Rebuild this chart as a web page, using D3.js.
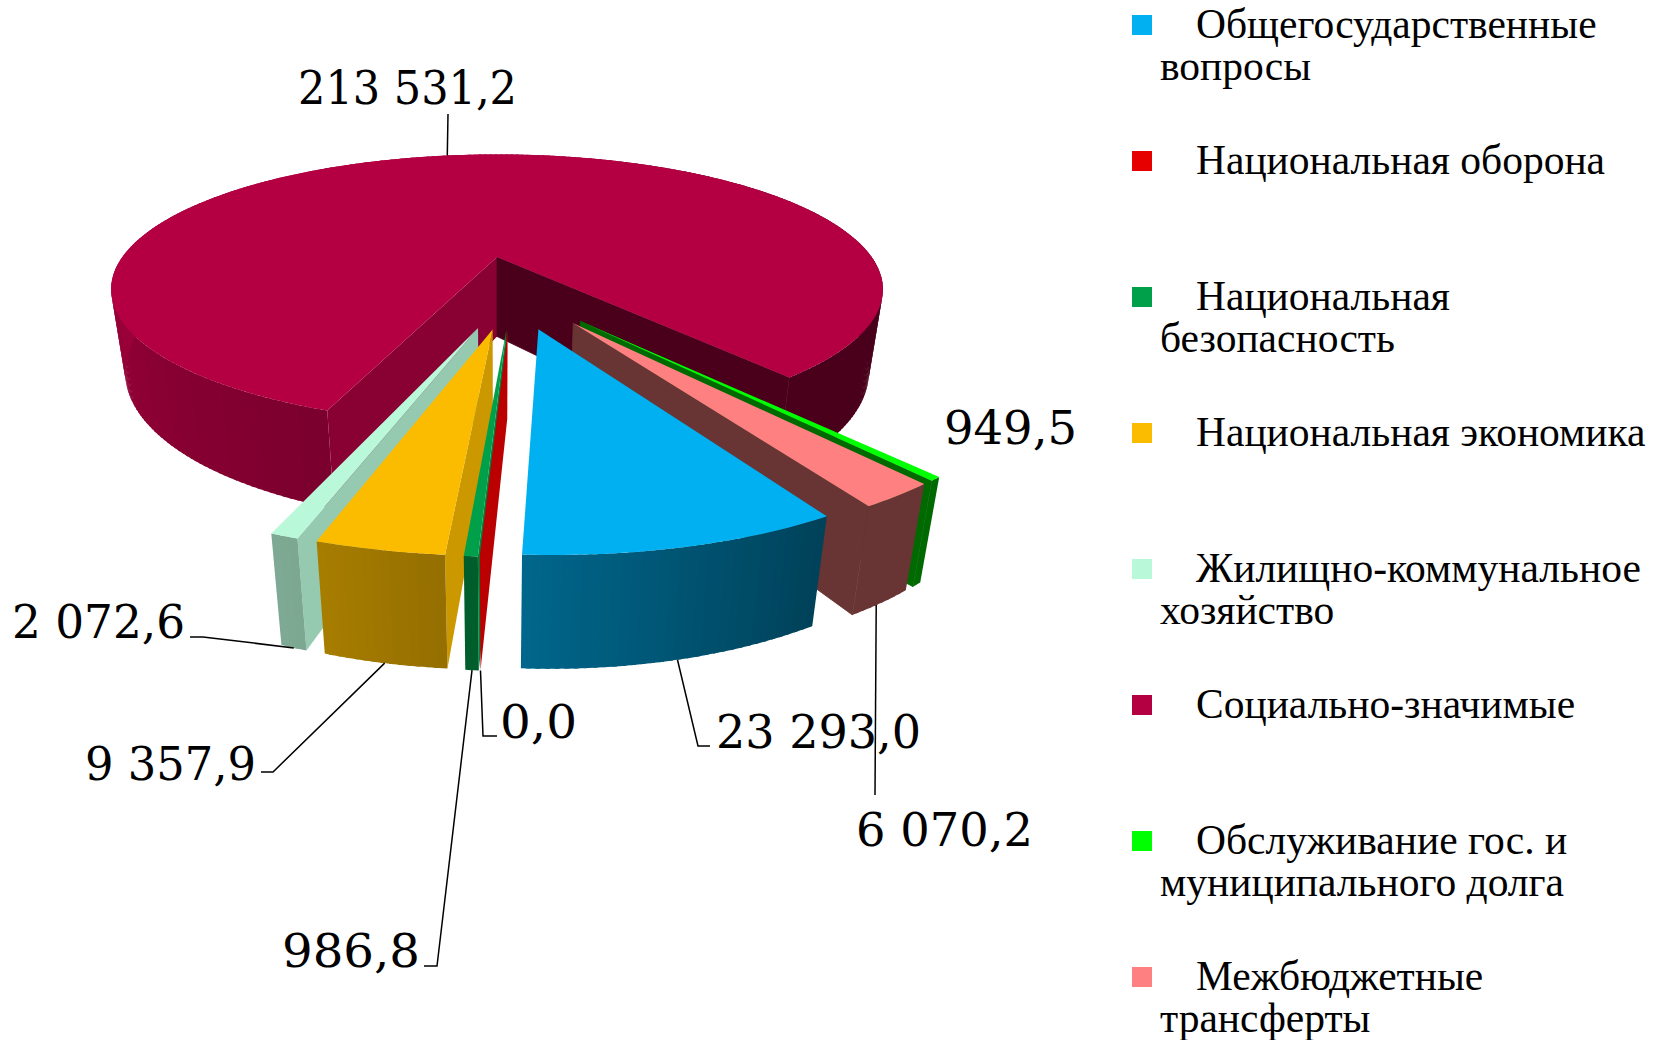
<!DOCTYPE html>
<html>
<head>
<meta charset="utf-8">
<script src="https://cdn.jsdelivr.net/npm/d3@7"></script>
<style>
  html, body { margin: 0; padding: 0; background: #fff; }
  svg { display: block; }
  .legend text { font-family: "Liberation Serif", serif; font-size: 41.5px; fill: #000; }
  .value { font-family: "DejaVu Serif", serif; font-size: 46px; fill: #000; }
</style>
</head>
<body>
<div id="chart"></div>
<script>
// data
var categories = ["Общегосударственные вопросы", "Национальная оборона", "Национальная безопасность",
  "Национальная экономика", "Жилищно-коммунальное хозяйство", "Социально-значимые",
  "Обслуживание гос. и муниципального долга", "Межбюджетные трансферты"];
var values = [23293.0, 0.0, 986.8, 9357.9, 2072.6, 213531.2, 949.5, 6070.2];
var colors = ["#00B0F0", "#E60000", "#00A04B", "#FBBC00", "#B9F9D9", "#B40043", "#00FF00", "#FF8080"];
var legendLines = [["Общегосударственные", "вопросы"], ["Национальная оборона"], ["Национальная", "безопасность"],
  ["Национальная экономика"], ["Жилищно-коммунальное", "хозяйство"], ["Социально-значимые"],
  ["Обслуживание гос. и", "муниципального долга"], ["Межбюджетные", "трансферты"]];

var width = 1658, height = 1040;
var svg = d3.select("#chart").append("svg").attr("width", width).attr("height", height);
var deg = Math.PI / 180;

// camera for the tilted pie
var screenX = 497, screenY = 257, scaleXY = 374.6, sinTilt = 0.3395, k = 0.24;
var cosTilt = Math.sqrt(1 - sinTilt * sinTilt), camDist = cosTilt / k, focal = scaleXY * camDist;
var thickness = 0.23, explode = 0.255, squeeze = 0.016;

function project(x, y, z) {
  var dist = camDist - (y * cosTilt + z * sinTilt);
  var px = focal * x / dist * (1 + z * squeeze / thickness);
  var py = focal * (y * sinTilt - z * cosTilt) / dist;
  return [screenX + px, screenY + py];
}

// the big slice sits at the projection origin, everything else is moved from there
var pie = d3.pie().sort(null).startAngle(150.4 * deg).endAngle(510.4 * deg);
var arcs = pie(values);
var bigMid = (arcs[5].startAngle + arcs[5].endAngle) / 2;
var origin = { x: -explode * Math.sin(bigMid) - 0.003, y: explode * Math.cos(bigMid) };

arcs.forEach(function(a, i) {
  var mid = (a.startAngle + a.endAngle) / 2;
  a.cx = i == 5 ? 0 : origin.x + explode * Math.sin(mid);
  a.cy = origin.y - explode * Math.cos(mid);
  a.mid = mid;
});

function rim(a, angle, z) {
  return project(a.cx + Math.sin(angle), a.cy - Math.cos(angle), z);
}

function shaded(color, s) {
  var c = d3.rgb(color);
  return d3.rgb(c.r * s, c.g * s, c.b * s).formatHex();
}

// shade of the outer wall by direction (degrees clockwise from the back)
var wallShade = d3.scaleLinear().domain([90, 150.3, 150.5, 183, 200, 270, 360, 450])
  .range([0.41, 0.41, 0.37, 0.58, 0.68, 0.87, 0.87, 0.41]);
var line = d3.line().curve(d3.curveLinearClosed);
var gPie = svg.append("g");

function drawSlice(i) {
  var a = arcs[i], color = colors[i], g = gPie.append("g");
  var apexTop = project(a.cx, a.cy, 0), apexBot = project(a.cx, a.cy, -thickness);

  // side walls, only the ones turned to the camera
  var startWall = [apexTop, rim(a, a.startAngle, 0), rim(a, a.startAngle, -thickness), apexBot];
  var endWall = [apexTop, rim(a, a.endAngle, 0), rim(a, a.endAngle, -thickness), apexBot];
  if (d3.polygonArea(startWall) > 0) {
    g.append("path").attr("fill", shaded(color, i == 5 ? 0.76 : 0.81)).attr("d", line(startWall));
  }
  if (d3.polygonArea(endWall) < 0) {
    var dark = shaded(color, 0.41);
    g.append("path").attr("fill", dark).attr("stroke", dark).attr("stroke-width", 0.8).attr("d", line(endWall));
  }

  // outer wall in narrow strips, each one overlaps the next to hide seams
  var span = a.endAngle - a.startAngle;
  var n = Math.max(2, Math.ceil(span / deg));
  d3.range(n).forEach(function(j) {
    var t0 = a.startAngle + span * j / n;
    var t1 = a.startAngle + span * Math.min(n, j + 1.5) / n;
    var d = ((t0 + span / n / 2) / deg) % 360;
    if (d < 90) d += 360;
    g.append("path").attr("fill", shaded(color, wallShade(d)))
      .attr("d", line([rim(a, t0, 0), rim(a, t1, 0), rim(a, t1, -thickness), rim(a, t0, -thickness)]));
  });

  // top face
  var top = [apexTop];
  d3.range(n + 1).forEach(function(j) {
    top.push(rim(a, a.startAngle + span * j / n, 0));
  });
  g.append("path").attr("fill", color).attr("d", line(top));
}

[5, 6, 7, 0, 4, 3, 2, 1].forEach(drawSlice);

// value labels with their leader lines
var fmt = d3.formatLocale({ decimal: ",", thousands: "\u00a0", grouping: [3] }).format(",.1f");
var labelLayout = [
  { i: 0, x: 716, y: 748, w: 205, elbow: [[710, 746], [698, 746]] },
  { i: 1, x: 500, y: 738, w: 77, elbow: [[497, 736], [483, 736]] },
  { i: 2, x: 282, y: 967, w: 138, elbow: [[424, 966], [437, 966]] },
  { i: 3, x: 85, y: 780, w: 171, elbow: [[261, 772], [273, 772]] },
  { i: 4, x: 12, y: 638, w: 173, elbow: [[190, 637], [203, 637]] },
  { i: 5, x: 298, y: 104, w: 219, elbow: [[448, 114]], top: true },
  { i: 6, x: 944, y: 444, w: 133 },
  { i: 7, x: 856, y: 846, w: 177, elbow: [[875, 795]], along: 0.58 }
];

var leader = d3.line();
labelLayout.forEach(function(l) {
  if (l.elbow) {
    var a = arcs[l.i];
    var angle = l.along ? a.startAngle + (a.endAngle - a.startAngle) * l.along : a.mid;
    svg.append("path").attr("fill", "none").attr("stroke", "#000").attr("stroke-width", 1.5)
      .attr("d", leader(l.elbow.concat([rim(a, angle, l.top ? 0 : -thickness)])));
  }
  svg.append("text").attr("class", "value").attr("x", l.x).attr("y", l.y)
    .attr("textLength", l.w).attr("lengthAdjust", "spacingAndGlyphs").text(fmt(values[l.i]));
});

// legend
var legendY = d3.scalePoint().domain(categories).range([15, 967]);
var legend = svg.append("g").attr("class", "legend");
categories.forEach(function(c, i) {
  var y = legendY(c);
  legend.append("rect").attr("x", 1132).attr("y", y).attr("width", 20).attr("height", 20).attr("fill", colors[i]);
  legendLines[i].forEach(function(t, j) {
    legend.append("text").attr("x", j == 0 ? 1196 : 1160).attr("y", y + 23 + j * 41.5).text(t);
  });
});
</script>
</body>
</html>
